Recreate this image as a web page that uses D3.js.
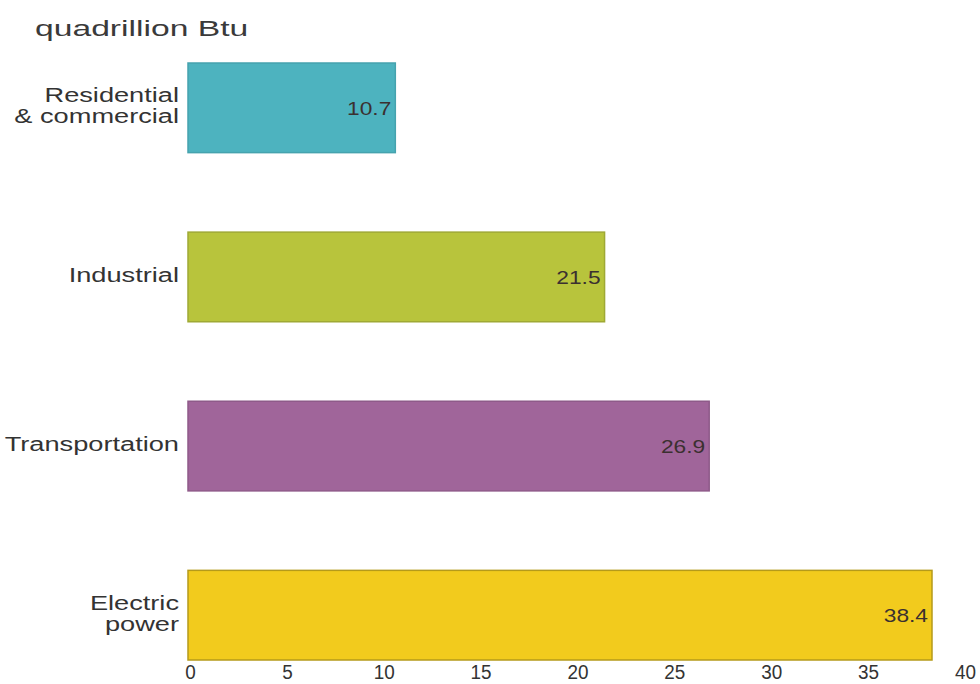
<!DOCTYPE html>
<html>
<head>
<meta charset="utf-8">
<script src="https://cdn.jsdelivr.net/npm/d3@7"></script>
<style>
  html, body { margin: 0; padding: 0; background: #fff; }
  svg { display: block; }
</style>
</head>
<body>
<svg id="chart" width="980" height="684"></svg>
<script>
// Energy consumption by sector, quadrillion Btu
const sectors = [["Residential", "& commercial"], ["Industrial"], ["Transportation"], ["Electric", "power"]];
const values = [10.7, 21.5, 26.9, 38.4];
const fills = ["#4db3bf", "#b8c43c", "#a0659a", "#f2cb1d"];
const strokes = ["#46a3ae", "#9fa935", "#8e5a89", "#b59a1a"];
const xTicks = [0, 5, 10, 15, 20, 25, 30, 35, 40];

const svg = d3.select("#chart");
const sansFont = "'Liberation Sans', Arial, Helvetica, sans-serif";
// labels use a horizontally widened sans face
const WIDE = 1.36;

const x = d3.scaleLinear().domain([0, 40]).range([188, 963]);
const y = d3.scaleBand().domain(d3.range(sectors.length)).range([63, 660])
  .paddingInner(0.47).paddingOuter(0);

// unit title
svg.append("text")
  .attr("transform", "translate(35,36) scale(1.53,1)")
  .attr("font-family", sansFont).attr("font-size", 22)
  .attr("fill", "#3a3a3a")
  .text("quadrillion Btu");

// bars
svg.append("g").selectAll("rect")
  .data(values)
  .join("rect")
  .attr("x", x(0))
  .attr("y", (d, i) => y(i))
  .attr("width", d => x(d) - x(0))
  .attr("height", y.bandwidth())
  .attr("fill", (d, i) => fills[i])
  .attr("stroke", (d, i) => strokes[i])
  .attr("stroke-width", 1.5);

// value labels inside bar ends
svg.append("g").selectAll("text")
  .data(values)
  .join("text")
  .attr("transform", (d, i) =>
    `translate(${x(d) - 4},${y(i) + y.bandwidth() / 2 + 1}) scale(1.3,1)`)
  .attr("dy", "0.35em")
  .attr("text-anchor", "end")
  .attr("font-family", sansFont).attr("font-size", 17.5)
  .attr("fill", "#3b3030")
  .text(d => d.toFixed(1));

// category labels
const cat = svg.append("g").selectAll("text")
  .data(sectors)
  .join("text")
  .attr("transform", (d, i) =>
    `translate(179,${y(i) + y.bandwidth() / 2 - 2}) scale(${WIDE},1)`)
  .attr("text-anchor", "end")
  .attr("font-family", sansFont).attr("font-size", 20)
  .attr("fill", "#333");
cat.each(function (lines) {
  const t = d3.select(this);
  const lh = 21;
  lines.forEach((ln, k) => {
    t.append("tspan")
      .attr("x", 0)
      .attr("y", (k - (lines.length - 1) / 2) * lh)
      .attr("dy", "0.35em")
      .text(ln);
  });
});

// x axis: tick labels only, in a slightly condensed face
const xAxis = d3.axisBottom(x).tickValues(xTicks).tickSize(0).tickPadding(0);
const ax = svg.append("g").attr("transform", "translate(2,679)").call(xAxis);
ax.select(".domain").remove();
ax.selectAll(".tick text")
  .attr("y", 0).attr("dy", 0)
  .attr("transform", "scale(0.9,1)")
  .attr("font-family", sansFont).attr("font-size", 21)
  .attr("fill", "#333");
</script>
</body>
</html>
